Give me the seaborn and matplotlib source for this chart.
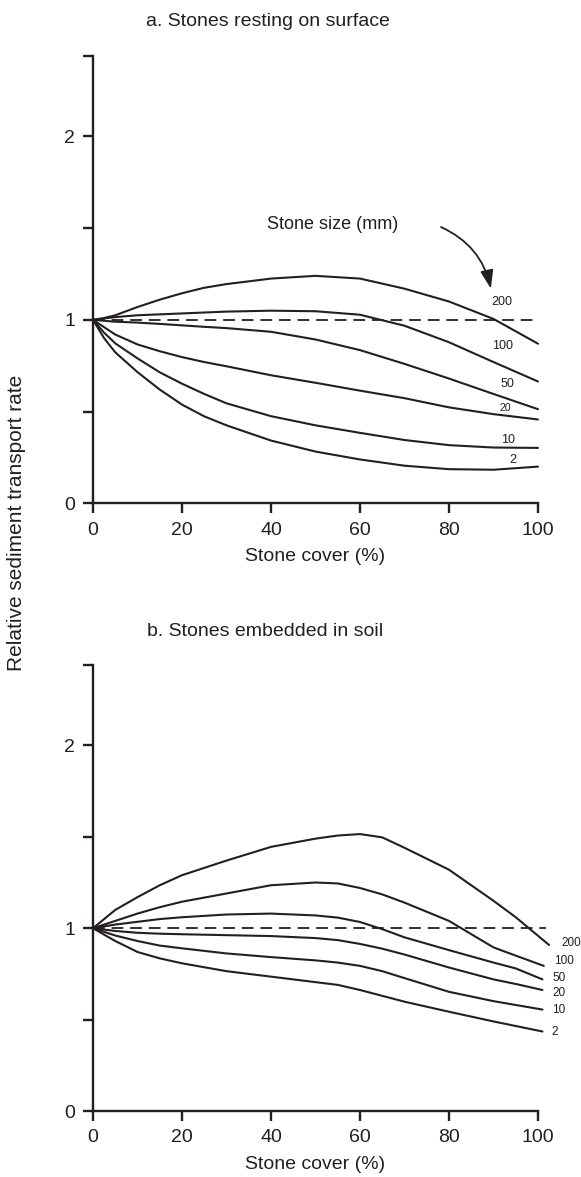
import matplotlib
matplotlib.use("Agg")
import matplotlib.pyplot as plt
import pandas as pd
import seaborn as sns

# ---- data -------------------------------------------------------------
stone_sizes = ["200", "100", "50", "20", "10", "2"]

# Panel a: stones resting on the surface
cover_a = [0, 2.5, 5, 10, 15, 20, 25, 30, 40, 50, 60, 70, 80, 90, 100]
rate_a_200 = [1.0, 1.01, 1.025, 1.07, 1.11, 1.145, 1.175, 1.195, 1.225, 1.24, 1.225, 1.17, 1.10, 1.005, 0.87]
rate_a_100 = [1.0, 1.008, 1.015, 1.025, 1.03, 1.035, 1.04, 1.045, 1.05, 1.047, 1.028, 0.968, 0.878, 0.77, 0.664]
rate_a_50 = [1.0, 0.995, 0.99, 0.985, 0.978, 0.97, 0.962, 0.955, 0.935, 0.893, 0.835, 0.76, 0.68, 0.596, 0.513]
rate_a_20 = [1.0, 0.96, 0.92, 0.866, 0.829, 0.797, 0.77, 0.747, 0.698, 0.657, 0.614, 0.573, 0.523, 0.486, 0.457]
rate_a_10 = [1.0, 0.93, 0.872, 0.79, 0.714, 0.652, 0.596, 0.545, 0.475, 0.425, 0.384, 0.345, 0.317, 0.304, 0.302]
rate_a_2 = [1.0, 0.9, 0.823, 0.715, 0.62, 0.538, 0.474, 0.425, 0.342, 0.282, 0.239, 0.205, 0.186, 0.183, 0.20]

# Panel b: stones embedded in the soil
cover_b = [0, 5, 10, 15, 20, 30, 40, 50, 55, 60, 65, 70, 80, 90, 95]
cover_b_end = [102.5, 101.3, 101, 101, 101, 101]
rate_b_200 = [1.0, 1.10, 1.17, 1.235, 1.29, 1.37, 1.445, 1.49, 1.507, 1.515, 1.497, 1.44, 1.32, 1.15, 1.06, 0.908]
rate_b_100 = [1.0, 1.04, 1.08, 1.115, 1.145, 1.19, 1.235, 1.25, 1.245, 1.22, 1.185, 1.14, 1.04, 0.895, 0.85, 0.794]
rate_b_50 = [1.0, 1.02, 1.035, 1.05, 1.06, 1.075, 1.08, 1.07, 1.058, 1.034, 0.995, 0.95, 0.88, 0.812, 0.78, 0.72]
rate_b_20 = [1.0, 0.985, 0.975, 0.97, 0.967, 0.962, 0.957, 0.946, 0.935, 0.914, 0.888, 0.856, 0.785, 0.72, 0.695, 0.662]
rate_b_10 = [1.0, 0.96, 0.93, 0.905, 0.89, 0.862, 0.842, 0.824, 0.812, 0.794, 0.765, 0.727, 0.652, 0.601, 0.58, 0.555]
rate_b_2 = [1.0, 0.93, 0.87, 0.835, 0.808, 0.765, 0.735, 0.705, 0.69, 0.662, 0.63, 0.598, 0.543, 0.49, 0.465, 0.435]

# end-of-curve size labels (x, y in data units)
label_a_x = [89.4, 89.7, 91.6, 91.3, 91.8, 93.5]
label_a_y = [1.10, 0.858, 0.651, 0.518, 0.346, 0.235]
label_a_fs = [9, 9, 9, 7.5, 9, 9]
label_b_x = [105.2, 103.5, 103.2, 103.3, 103.1, 103.1]
label_b_y = [0.919, 0.82, 0.726, 0.647, 0.555, 0.432]

x_ticks = [0, 20, 40, 60, 80, 100]
y_ticks = [0, 0.5, 1, 1.5, 2, 2.44]
y_ticklabels = ["0", "", "1", "", "2", ""]

# ---- style ------------------------------------------------------------
sns.set_theme(style="ticks")
INK = "#231f20"
plt.rcParams["font.family"] = ["Liberation Sans", "DejaVu Sans"]
plt.rcParams.update({
    "axes.edgecolor": INK,
    "axes.linewidth": 1.7,
    "xtick.color": INK,
    "ytick.color": INK,
    "xtick.major.width": 1.7,
    "ytick.major.width": 1.7,
    "xtick.major.size": 7.2,
    "ytick.major.size": 7.2,
    "xtick.major.pad": 6,
    "ytick.major.pad": 5.5,
    "xtick.labelsize": 14,
    "ytick.labelsize": 14,
    "text.color": INK,
    "axes.labelcolor": INK,
})

W, H = 581, 1177
fig = plt.figure(figsize=(W / 100, H / 100), dpi=100)


def px_axes(x0, x1, y_top, y_bottom):
    return fig.add_axes([x0 / W, 1 - y_bottom / H, (x1 - x0) / W, (y_bottom - y_top) / H])


ax_a = px_axes(93, 538, 55.7, 503.3)
ax_b = px_axes(93, 538, 665, 1111)


def long_frame(xs, series, ends=None):
    rows = []
    for i, (name, vals) in enumerate(series):
        xv = list(xs) + ([ends[i]] if ends is not None else [])
        for x, y in zip(xv, vals):
            rows.append({"cover": x, "rate": y, "size": name})
    return pd.DataFrame(rows)


df_a = long_frame(cover_a, zip(stone_sizes, [rate_a_200, rate_a_100, rate_a_50,
                                             rate_a_20, rate_a_10, rate_a_2]))
df_b = long_frame(cover_b, zip(stone_sizes, [rate_b_200, rate_b_100, rate_b_50,
                                             rate_b_20, rate_b_10, rate_b_2]), cover_b_end)

palette = {s: INK for s in stone_sizes}

for ax, df, dash_end in [(ax_a, df_a, 100), (ax_b, df_b, 101.7)]:
    # reference line at a relative rate of 1
    ax.plot([0, dash_end], [1, 1], color=INK, lw=1.3, dashes=(6.5, 3.8),
            clip_on=False, zorder=2)
    sns.lineplot(data=df, x="cover", y="rate", hue="size", palette=palette,
                 estimator=None, sort=False, legend=False, lw=1.5, ax=ax)
    for line in ax.lines:
        line.set_clip_on(False)
        line.set_solid_joinstyle("round")
    ax.set_xlim(0, 100)
    ax.set_ylim(0, 2.44)
    ax.set_xticks(x_ticks)
    ax.set_yticks(y_ticks)
    ax.set_yticklabels(y_ticklabels)
    ax.set_xlabel("Stone cover (%)", fontsize=14, labelpad=7)
    ax.set_ylabel("")
    sns.despine(ax=ax)

for s, x, y, fs in zip(stone_sizes, label_a_x, label_a_y, label_a_fs):
    ax_a.text(x, y, s, fontsize=fs, ha="left", va="center", color=INK)
for s, x, y in zip(stone_sizes, label_b_x, label_b_y):
    ax_b.text(x, y, s, fontsize=8.5, ha="left", va="center", color=INK,
              clip_on=False)

ax_a.text(53.9, 1.52, "Stone size (mm)", fontsize=13, ha="center", va="center")
ax_a.annotate("", xy=(89.4, 1.17), xytext=(78.2, 1.506),
              arrowprops=dict(arrowstyle="-|>,head_length=0.8,head_width=0.28",
                              connectionstyle="arc3,rad=-0.25", color=INK,
                              lw=1.3, shrinkA=0, shrinkB=0, mutation_scale=14))

fig.text(268 / W, 1 - 22 / H, "a. Stones resting on surface", fontsize=14,
         ha="center", va="center")
fig.text(265 / W, 1 - 632 / H, "b. Stones embedded in soil", fontsize=14,
         ha="center", va="center")
fig.text(17 / W, 1 - 523 / H, "Relative sediment transport rate", fontsize=15,
         rotation=90, ha="center", va="center")

fig.savefig("out.png", dpi=100, facecolor="white")
